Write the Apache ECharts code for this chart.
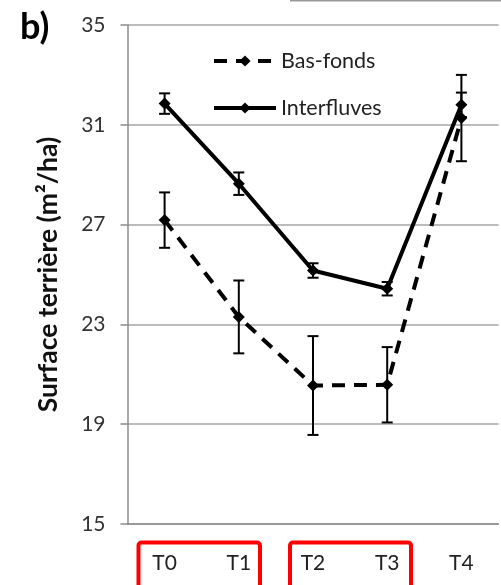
<!DOCTYPE html>
<html>
<head>
<meta charset="utf-8">
<script src="https://cdn.jsdelivr.net/npm/echarts@6/dist/echarts.min.js"></script>
<style>
  html, body { margin: 0; padding: 0; background: #fff; }
  #chart { width: 501px; height: 585px; }
</style>
</head>
<body>
<div id="chart"></div>
<script>
// Données
const periods = ['T0', 'T1', 'T2', 'T3', 'T4'];
const yTicks = [15, 19, 23, 27, 31, 35];

const basFonds = [27.18, 23.3, 20.55, 20.58, 31.27];
const basFondsErr = [1.11, 1.46, 1.98, 1.51, 1.73];

const interfluves = [31.85, 28.64, 25.16, 24.43, 31.8];
const interfluvesErr = [0.41, 0.45, 0.29, 0.27, 0.49];

const font = 'Lato, "Liberation Sans", sans-serif';

// Barres d'erreur : [index, bas, haut]
function errorData(values, errs) {
  return values.map((v, i) => [i, v - errs[i], v + errs[i]]);
}

function renderError(params, api) {
  const low = api.coord([api.value(0), api.value(1)]);
  const high = api.coord([api.value(0), api.value(2)]);
  const cap = 5.5;
  const style = { stroke: '#000', lineWidth: 2 };
  return {
    type: 'group',
    children: [
      { type: 'line', shape: { x1: low[0], y1: low[1], x2: high[0], y2: high[1] }, style },
      { type: 'line', shape: { x1: low[0] - cap, y1: low[1], x2: low[0] + cap, y2: low[1] }, style },
      { type: 'line', shape: { x1: high[0] - cap, y1: high[1], x2: high[0] + cap, y2: high[1] }, style },
    ],
  };
}

const option = {
  animation: false,
  backgroundColor: '#fff',
  grid: { left: 127.5, right: 2.5, top: 25, bottom: 61 },
  legend: {
    data: ['Bas-fonds', 'Interfluves'],
    orient: 'vertical',
    left: 207,
    top: 45,
    itemWidth: 62,
    itemHeight: 14,
    itemGap: 25,
    lineStyle: { width: 4 },
    textStyle: { fontSize: 21.5, color: '#222', fontFamily: font },
  },
  xAxis: {
    type: 'category',
    data: periods,
    axisLine: { lineStyle: { color: '#8c8c8c', width: 1.5 } },
    axisTick: { length: 8, lineStyle: { color: '#8c8c8c', width: 1.5 } },
    axisLabel: { fontSize: 21, color: '#222', fontFamily: font, margin: 29 },
  },
  yAxis: {
    type: 'value',
    min: yTicks[0],
    max: yTicks[yTicks.length - 1],
    interval: 4,
    name: 'Surface terrière (m²/ha)',
    nameLocation: 'middle',
    nameGap: 66,
    nameTextStyle: { fontSize: 26.5, fontWeight: 'bold', color: '#111', fontFamily: font },
    axisLine: { show: true, lineStyle: { color: '#8c8c8c', width: 1.5 } },
    axisTick: { show: true, inside: false, length: 7, lineStyle: { color: '#8c8c8c', width: 1.5 } },
    axisLabel: { fontSize: 21, color: '#333', fontFamily: font, margin: 22 },
    splitLine: { lineStyle: { color: '#a6a6a6', width: 1.5 } },
  },
  series: [
    {
      name: 'Bas-fonds',
      type: 'line',
      data: basFonds,
      symbol: 'diamond',
      symbolSize: 12,
      itemStyle: { color: '#000' },
      lineStyle: { color: '#000', width: 4, type: [13, 9] },
      z: 3,
    },
    {
      name: 'Interfluves',
      type: 'line',
      data: interfluves,
      symbol: 'diamond',
      symbolSize: 12,
      itemStyle: { color: '#000' },
      lineStyle: { color: '#000', width: 4 },
      z: 3,
    },
    {
      name: 'err-bas',
      type: 'custom',
      data: errorData(basFonds, basFondsErr),
      renderItem: renderError,
      z: 4,
    },
    {
      name: 'err-inter',
      type: 'custom',
      data: errorData(interfluves, interfluvesErr),
      renderItem: renderError,
      z: 4,
    },
  ],
  graphic: [
    {
      type: 'text',
      left: 20,
      top: 9,
      style: { text: 'b)', fontSize: 36, fontWeight: 'bold', fill: '#000', fontFamily: font },
    },
    // cadres rouges autour des périodes
    {
      type: 'rect',
      shape: { x: 138.5, y: 542.5, width: 121.5, height: 60, r: 3 },
      style: { fill: 'none', stroke: '#ff0000', lineWidth: 4 },
    },
    {
      type: 'rect',
      shape: { x: 290, y: 542.5, width: 121, height: 60, r: 3 },
      style: { fill: 'none', stroke: '#ff0000', lineWidth: 4 },
    },
    // bord du panneau voisin en haut
    {
      type: 'line',
      shape: { x1: 290, y1: 0.5, x2: 501, y2: 0.5 },
      style: { stroke: '#999', lineWidth: 2 },
    },
  ],
};

const chart = echarts.init(document.getElementById('chart'));
chart.setOption(option);
</script>
</body>
</html>
